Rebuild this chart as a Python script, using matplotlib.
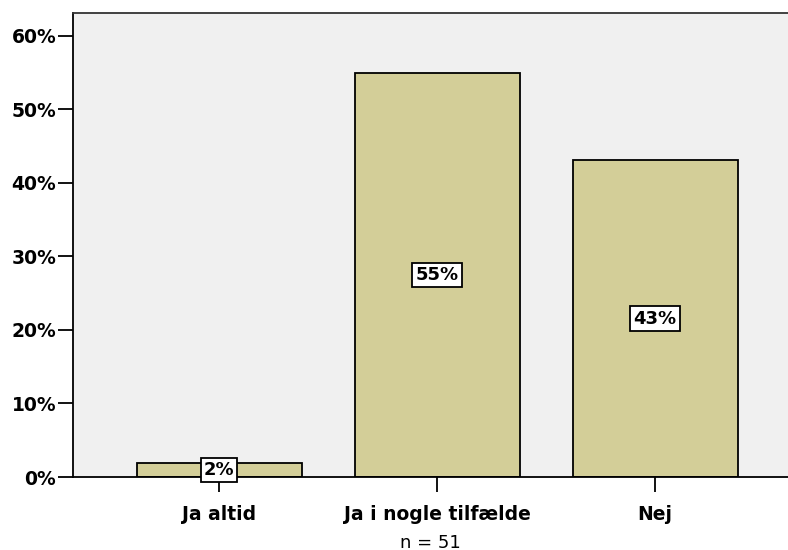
import matplotlib
matplotlib.use("Agg")
import matplotlib.pyplot as plt
from matplotlib.ticker import FuncFormatter

categories = ["Ja altid", "Ja i nogle tilfælde", "Nej"]
values = [1.96, 54.9, 43.1]
labels = ["2%", "55%", "43%"]
yticks = [0, 10, 20, 30, 40, 50, 60]

plt.rcParams['font.family'] = ['DejaVu Sans']
fig = plt.figure(figsize=(7.88, 5.5), dpi=100)
ax = fig.add_axes([0.0926, 0.1327, 0.9074, 0.8437])
ax.set_facecolor("#f0f0f0")
x = list(range(len(categories)))
ax.bar(x, values, width=0.757, color="#d3ce98", edgecolor="black", linewidth=1.3, zorder=2)
for xi, v, lab in zip(x, values, labels):
    ax.text(xi, v / 2, lab, ha="center", va="center", fontsize=13, fontweight="bold",
            bbox=dict(boxstyle="square,pad=0.17", fc="white", ec="black", lw=1.3), zorder=3)
ax.set_xlim(-0.67, 2.61)
ax.set_ylim(0, 63.1)
ax.set_yticks(yticks)
ax.yaxis.set_major_formatter(FuncFormatter(lambda v, p: f"{int(v)}%"))
ax.set_xticks(x)
ax.set_xticklabels(categories)
ax.tick_params(axis="both", direction="out", length=11, width=1.3, labelsize=13.5)
ax.tick_params(axis="y", pad=1)
ax.tick_params(axis="x", pad=9)
for t in ax.get_xticklabels() + ax.get_yticklabels():
    t.set_fontweight("bold")
ax.spines["right"].set_visible(False)
for s in ["left", "bottom", "top"]:
    ax.spines[s].set_linewidth(1.3)
ax.spines["top"].set_color("#333333")
ax.set_xlabel("n = 51", fontsize=13, labelpad=7)
fig.savefig("out.png", dpi=100)
